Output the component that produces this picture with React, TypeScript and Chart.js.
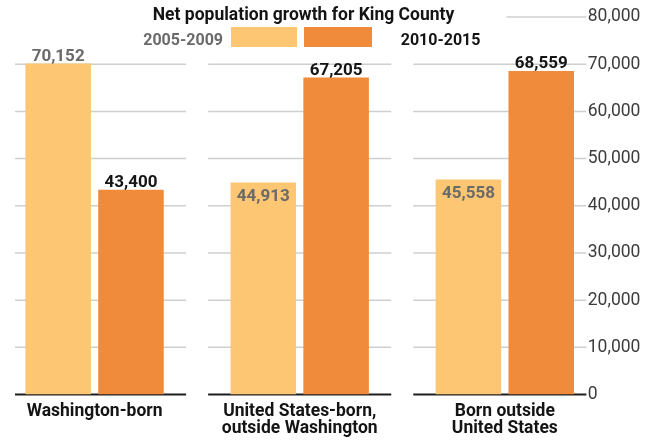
import React, { useEffect, useRef } from 'react';
import { Chart, registerables } from 'chart.js';

Chart.register(...registerables);

// ---- data ----
const chartTitle = 'Net population growth for King County';
const categories: string[][] = [
  ['Washington-born'],
  ['United States-born,', 'outside Washington'],
  ['Born outside', 'United States'],
];
const seriesNames = ['2005-2009', '2010-2015'];
const growth2005to2009 = [70152, 44913, 45558];
const growth2010to2015 = [43400, 67205, 68559];
const labelInside2005 = [false, true, true];
const labelInside2010 = [false, false, false];
const yTickValues = [0, 10000, 20000, 30000, 40000, 50000, 60000, 70000, 80000];

// ---- styles ----
const FONT = "Roboto, 'Liberation Sans', sans-serif";
const LIGHT = '#FCC673';
const DARK = '#EF8B3A';
const GRAY_TEXT = '#6a6a6a';
const BLACK_TEXT = '#141414';
const GRID = '#cfcfcf';

const fmt = (v: number) => v.toLocaleString('en-US');

const decorPlugin = {
  id: 'decor',
  beforeDatasetsDraw(chart: any) {
    const { ctx, chartArea } = chart;
    const xs = chart.scales.x;
    const ys = chart.scales.y;
    const left = chartArea.left + 23;
    const right = chartArea.right - 21;
    const gapHalf = 11;
    const bounds: number[] = [];
    for (let i = 0; i < categories.length - 1; i++) {
      bounds.push((xs.getPixelForValue(i) + xs.getPixelForValue(i + 1)) / 2);
    }
    const segments = (from: number) => {
      const segs: [number, number][] = [];
      let start = from;
      bounds.forEach((b) => {
        if (b - gapHalf > start) {
          segs.push([start, b - gapHalf]);
          start = b + gapHalf;
        } else if (b + gapHalf > start) {
          start = b + gapHalf;
        }
      });
      segs.push([start, right]);
      return segs;
    };
    ctx.save();
    yTickValues.forEach((v) => {
      const yy = ys.getPixelForValue(v);
      const isZero = v === 0;
      const isTop = v === yTickValues[yTickValues.length - 1];
      ctx.strokeStyle = isZero ? '#1e1e1e' : GRID;
      ctx.lineWidth = isZero ? 2 : 1.5;
      const segs = isTop ? [[right - 80, right]] : segments(left);
      segs.forEach(([a, b]) => {
        ctx.beginPath();
        ctx.moveTo(a, yy);
        ctx.lineTo(b, yy);
        ctx.stroke();
      });
    });
    ctx.restore();
  },
  afterDatasetsDraw(chart: any) {
    const { ctx } = chart;
    ctx.save();
    ctx.font = `bold 17px ${FONT}`;
    ctx.textAlign = 'center';
    ctx.textBaseline = 'alphabetic';
    chart.data.datasets.forEach((ds: any, di: number) => {
      const meta = chart.getDatasetMeta(di);
      meta.data.forEach((bar: any, i: number) => {
        const inside = ds.labelInside[i];
        ctx.fillStyle = ds.labelColor;
        const y = inside ? bar.y + 18 : bar.y - 2.5;
        ctx.fillText(fmt(ds.data[i]), bar.x, y);
      });
    });

    // title
    ctx.fillStyle = BLACK_TEXT;
    ctx.font = `bold 17.5px ${FONT}`;
    ctx.textAlign = 'center';
    ctx.fillText(chartTitle, 311.5, 20);

    // legend
    ctx.font = `bold 16px ${FONT}`;
    ctx.textAlign = 'right';
    ctx.fillStyle = GRAY_TEXT;
    ctx.fillText(seriesNames[0], 231, 45);
    ctx.fillStyle = LIGHT;
    ctx.fillRect(239, 27, 66, 20);
    ctx.fillStyle = DARK;
    ctx.fillRect(312, 27, 68, 20);
    ctx.textAlign = 'left';
    ctx.fillStyle = BLACK_TEXT;
    ctx.fillText(seriesNames[1], 408.7, 45);
    ctx.restore();
  },
};

export default function App() {
  const canvasRef = useRef<HTMLCanvasElement | null>(null);

  useEffect(() => {
    if (!canvasRef.current) return;
    const chart = new Chart(canvasRef.current, {
      type: 'bar',
      data: {
        labels: categories,
        datasets: [
          {
            label: seriesNames[0],
            data: growth2005to2009,
            backgroundColor: LIGHT,
            barPercentage: 0.9,
            categoryPercentage: 0.71,
            labelInside: labelInside2005,
            labelColor: GRAY_TEXT,
          } as any,
          {
            label: seriesNames[1],
            data: growth2010to2015,
            backgroundColor: DARK,
            barPercentage: 0.9,
            categoryPercentage: 0.71,
            labelInside: labelInside2010,
            labelColor: BLACK_TEXT,
          } as any,
        ],
      },
      options: {
        animation: false,
        responsive: true,
        maintainAspectRatio: false,
        layout: { padding: { top: 17, left: 0, right: 0, bottom: 0 } },
        plugins: {
          legend: { display: false },
          title: { display: false },
          tooltip: { enabled: false },
        },
        scales: {
          x: {
            grid: { display: false, drawTicks: false },
            border: { display: false },
            ticks: {
              autoSkip: false,
              maxRotation: 0,
              padding: 8,
              color: BLACK_TEXT,
              font: { family: FONT, size: 17.5, weight: 'bold', lineHeight: 1.0 },
            },
            afterFit: (scale: any) => {
              scale.height = 46.5;
              scale.paddingLeft = 0;
              scale.paddingRight = 0;
            },
          },
          y: {
            position: 'right',
            min: 0,
            max: 80000,
            grid: { display: false, drawTicks: false },
            border: { display: false },
            afterBuildTicks: (scale: any) => {
              scale.ticks = yTickValues.map((v) => ({ value: v }));
            },
            ticks: {
              mirror: true,
              crossAlign: 'far',
              padding: 33,
              color: '#3c3c3c',
              font: { family: FONT, size: 17.5 },
              callback: (v: any) => fmt(Number(v)),
            },
            afterFit: (scale: any) => {
              scale.width = 40.6;
              scale.paddingTop = 0;
              scale.paddingBottom = 0;
            },
          },
        },
      },
      plugins: [decorPlugin],
    });
    return () => chart.destroy();
  }, []);

  return (
    <div style={{ position: 'absolute', left: -8, top: 0, width: 656, height: 441 }}>
      <canvas ref={canvasRef} />
    </div>
  );
}
